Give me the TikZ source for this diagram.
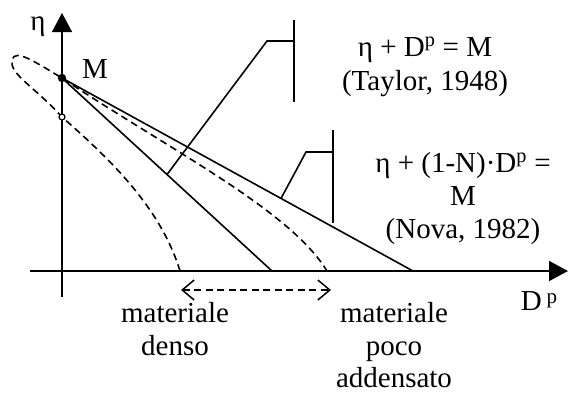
\documentclass[tikz,border=0pt]{standalone}
\usepackage{fontspec}
\setmainfont{Liberation Serif}
\usetikzlibrary{arrows.meta,calc}
\begin{document}
\begin{tikzpicture}[x=1pt,y=-1pt,
  line width=1.6pt,
  lbl/.style={inner sep=0pt,anchor=base,font=\fontsize{29}{33}\selectfont},
  dsh/.style={dash pattern=on 7pt off 4.5pt},
  axisarrow/.style={-{Triangle[length=19pt,width=20pt]}}]
\useasboundingbox (0,0) rectangle (568,392);
% axes
\coordinate (yb) at (62,297);
\coordinate (yt) at (62,13);
\coordinate (xl) at (30,271);
\coordinate (xr) at (568,271);
\draw[axisarrow] (yb) -- (yt);
\draw[axisarrow] (xl) -- (xr);
\node[lbl] (eta) at (38,30) {η};
\node[lbl] (dp) at (539,310) {D\,\raisebox{0.5ex}{\fontsize{21}{22}\selectfont p}};
% points
\coordinate (M) at (62,78);
\coordinate (O) at (62,117);
\node[lbl] (Mlab) at (95,78) {M};
% end points on the D axis
\coordinate (e1) at (180,271);
\coordinate (e2) at (272,271);
\coordinate (e3) at (327,271);
\coordinate (e4) at (413,271);
% solid lines
\draw (M) -- (e2);
\draw (M) -- (e4);
% dashed curves
\draw[dsh] (e1) .. controls (160,205) and (105,155) .. (O)
  .. controls (35,87) and (9,74) .. (12,60)
  .. controls (15,48) and (35,62) .. (M)
  .. controls (170,150) and (290,210) .. (e3);
\fill (M) circle (4.2pt);
\draw[line width=1.2pt,fill=white] (O) circle (3pt);
% Taylor leader
\coordinate (t0) at ($(M)!0.5!(e2)$);
\coordinate (t1) at (267,41);
\coordinate (t2) at (294,41);
\coordinate (tb1) at (294,20);
\coordinate (tb2) at (294,102);
\draw (t0) -- (t1) -- (t2);
\draw (tb1) -- (tb2);
\node[lbl] (tay1) at (425,56) {η + D\textsuperscript{p} = M};
\node[lbl] (tay2) at (425,90) {(Taylor, 1948)};
% Nova leader
\coordinate (n0) at ($(M)!0.624!(e4)$);
\coordinate (n1) at (306,152);
\coordinate (n2) at (333,152);
\coordinate (nb1) at (333,130);
\coordinate (nb2) at (333,223);
\draw (n0) -- (n1) -- (n2);
\draw (nb1) -- (nb2);
\node[lbl] (nova1) at (463,172) {η + (1-N)·D\textsuperscript{p} =};
\node[lbl] (nova2) at (463,205) {M};
\node[lbl] (nova3) at (463,238) {(Nova, 1982)};
% range arrow
\coordinate (a1) at (181,290);
\coordinate (a2) at (331,290);
\draw[dsh,{Straight Barb[length=12pt,width=20pt,line width=1.5pt]}-{Straight Barb[length=12pt,width=20pt,line width=1.5pt]}] (a1) -- (a2);
\node[lbl] (dense1) at (175,322) {materiale};
\node[lbl] (dense2) at (175,355) {denso};
\node[lbl] (loose1) at (394,322) {materiale};
\node[lbl] (loose2) at (394,355) {poco};
\node[lbl] (loose3) at (394,387) {addensato};
\end{tikzpicture}
\end{document}
